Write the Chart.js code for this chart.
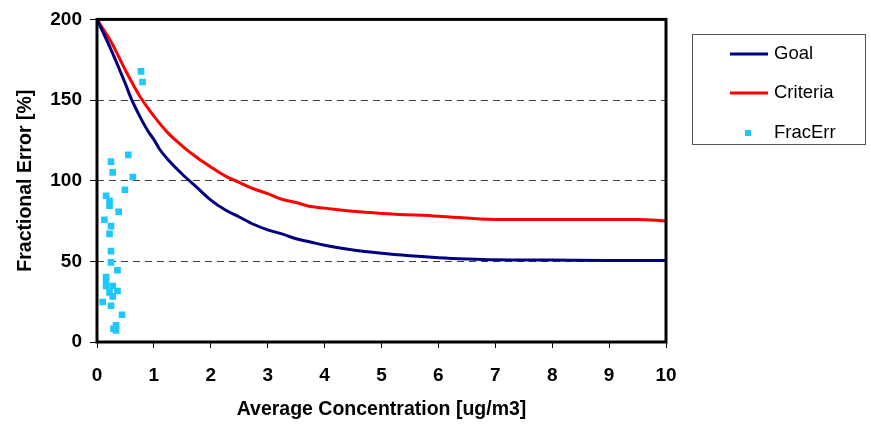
<!DOCTYPE html>
<html>
<head>
<meta charset="utf-8">
<script src="https://cdn.jsdelivr.net/npm/chart.js@4.4.0/dist/chart.umd.min.js"></script>
<style>
  html, body { margin: 0; padding: 0; background: #fff; }
  #wrap { width: 871px; height: 424px; }
</style>
</head>
<body>
<div id="wrap"><canvas id="c" width="871" height="424"></canvas></div>
<script>
// ---- data ----
const goalX = [0, 0.25, 0.5, 0.6, 0.75, 0.9, 1, 1.1, 1.25, 1.5, 1.75, 2, 2.25, 2.5, 2.75, 3, 3.25, 3.5, 3.75, 4, 4.5, 5, 5.5, 6, 6.5, 7, 8, 9, 10];
const goalY = [200, 181, 160, 151, 140, 130.5, 125.5, 119.5, 113, 104, 96, 88, 82, 77.5, 73, 69.5, 67, 64, 62, 60, 57, 55, 53.5, 52.3, 51.5, 51, 50.8, 50.6, 50.5];

const critX = [0, 0.25, 0.5, 0.75, 1, 1.25, 1.5, 1.75, 2, 2.25, 2.5, 2.75, 3, 3.25, 3.5, 3.75, 4, 4.5, 5, 6, 7, 8, 9, 9.5, 10];
const critY = [200, 186, 168.5, 152.5, 140, 129.5, 121.5, 114.5, 108.5, 103, 99, 95, 92, 88.5, 86.5, 84, 83, 81, 79.7, 78, 76, 76, 76, 76, 75];

const fracX = [0.774, 0.80, 0.55, 0.246, 0.276, 0.63, 0.49, 0.16, 0.22, 0.22, 0.38, 0.13, 0.246, 0.22, 0.246, 0.246, 0.36, 0.16, 0.16, 0.16, 0.276, 0.22, 0.36, 0.276, 0.10, 0.246, 0.44, 0.335, 0.29, 0.335];
const fracY = [167.8, 161.2, 116, 111.8, 105.2, 102.3, 94.4, 90.7, 87.6, 84.5, 80.7, 75.8, 71.8, 67, 56.3, 49.4, 44.5, 40.3, 37.2, 34.7, 34.7, 30.8, 31.6, 28.3, 24.8, 22.5, 16.9, 10.3, 8.2, 7.2];

const xTicks = [0, 1, 2, 3, 4, 5, 6, 7, 8, 9, 10];
const yTicks = [0, 50, 100, 150, 200];
const seriesNames = ['Goal', 'Criteria', 'FracErr'];
const xTitle = 'Average Concentration [ug/m3]';
const yTitle = 'Fractional Error [%]';

// ---- chart ----
const FONT = '"Liberation Sans", Arial, sans-serif';
const toPts = (xs, ys) => xs.map((x, i) => ({ x: x, y: ys[i] }));
const colors = { goal: '#000080', crit: '#FF0000', frac: '#1EC8FF' };

const framePlugin = {
  id: 'frame',
  afterDatasetsDraw(chart) {
    const a = chart.chartArea, ctx = chart.ctx;
    ctx.save();
    ctx.strokeStyle = '#000';
    ctx.lineWidth = 3;
    ctx.strokeRect(a.left, a.top, a.right - a.left, a.bottom - a.top);
    ctx.restore();
  }
};

const legendPlugin = {
  id: 'customLegend',
  afterDraw(chart) {
    const ctx = chart.ctx;
    ctx.save();
    ctx.strokeStyle = '#555';
    ctx.lineWidth = 1;
    ctx.strokeRect(692.5, 34.5, 173, 110);
    const rows = [54, 93, 133];
    ctx.font = '18.5px ' + FONT;
    ctx.textBaseline = 'middle';
    ctx.textAlign = 'left';
    ctx.lineWidth = 3;
    ctx.strokeStyle = colors.goal;
    ctx.beginPath(); ctx.moveTo(730, rows[0]); ctx.lineTo(768, rows[0]); ctx.stroke();
    ctx.strokeStyle = colors.crit;
    ctx.beginPath(); ctx.moveTo(730, rows[1]); ctx.lineTo(768, rows[1]); ctx.stroke();
    ctx.fillStyle = colors.frac;
    ctx.fillRect(745, rows[2] - 3, 6, 6);
    ctx.fillStyle = '#000';
    seriesNames.forEach((n, i) => ctx.fillText(n, 774, rows[i]));
    ctx.restore();
  }
};

new Chart(document.getElementById('c'), {
  type: 'scatter',
  data: {
    datasets: [
      { label: seriesNames[0], data: toPts(goalX, goalY), showLine: true, borderColor: colors.goal, borderWidth: 3, pointRadius: 0, cubicInterpolationMode: 'monotone', order: 2 },
      { label: seriesNames[1], data: toPts(critX, critY), showLine: true, borderColor: colors.crit, borderWidth: 3, pointRadius: 0, cubicInterpolationMode: 'monotone', order: 3 },
      { label: seriesNames[2], data: toPts(fracX, fracY), showLine: false, backgroundColor: colors.frac, borderWidth: 0, pointStyle: 'rect', pointRadius: 4.7, order: 1 }
    ]
  },
  options: {
    responsive: false,
    animation: false,
    devicePixelRatio: 1,
    layout: { padding: { left: 0, top: 19, right: 205, bottom: 0 } },
    plugins: { legend: { display: false }, tooltip: { enabled: false } },
    scales: {
      x: {
        type: 'linear', min: 0, max: 10,
        afterBuildTicks: (s) => { s.ticks = xTicks.map(v => ({ value: v })); },
        afterFit: (s) => { s.height = 424 - 342; },
        ticks: { font: { family: FONT, size: 19, weight: 'bold' }, color: '#000', padding: 16, maxRotation: 0 },
        grid: { drawOnChartArea: false, drawTicks: true, tickLength: 6, tickColor: '#000', tickWidth: 1 },
        border: { display: false },
        title: { display: true, text: xTitle, font: { family: FONT, size: 19.5, weight: 'bold' }, color: '#000', padding: { top: 0, bottom: 3 } }
      },
      y: {
        type: 'linear', min: 0, max: 200,
        afterBuildTicks: (s) => { s.ticks = yTicks.map(v => ({ value: v })); },
        afterFit: (s) => { s.width = 97; },
        ticks: { font: { family: FONT, size: 19, weight: 'bold' }, color: '#000', padding: 8 },
        grid: { drawOnChartArea: true, drawTicks: true, tickLength: 7, color: '#404040', tickColor: '#000', lineWidth: 1 },
        border: { display: false, dash: [7, 5] },
        title: { display: true, text: yTitle, font: { family: FONT, size: 19.5, weight: 'bold' }, color: '#000', padding: { top: 14, bottom: 0 } }
      }
    }
  },
  plugins: [framePlugin, legendPlugin]
});
</script>
</body>
</html>
